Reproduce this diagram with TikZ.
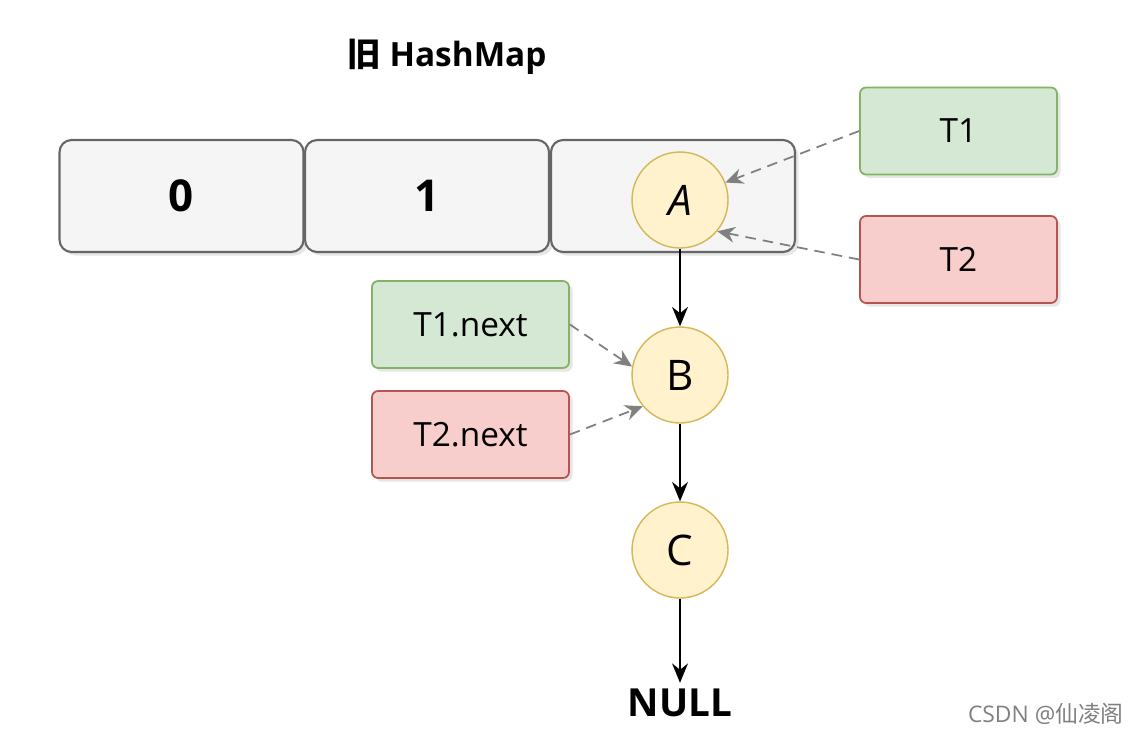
\documentclass[tikz,border=0pt]{standalone}
\usepackage{fontspec}
\setmainfont{Open Sans}
\newfontfamily\cjk{Noto Sans CJK SC}
\usetikzlibrary{arrows.meta,shadows}
\definecolor{cellfill}{HTML}{F5F5F5}
\definecolor{cellline}{HTML}{666666}
\definecolor{nodefill}{HTML}{FFF2CC}
\definecolor{nodeline}{HTML}{D6B656}
\definecolor{greenfill}{HTML}{D5E8D4}
\definecolor{greenline}{HTML}{82B366}
\definecolor{redfill}{HTML}{F8CECC}
\definecolor{redline}{HTML}{B85450}
\tikzset{
    shade/.style={drop shadow={opacity=0.2,shadow xshift=2pt,shadow yshift=-2pt}},
    cell/.style={draw=cellline,fill=cellfill,line width=1.2pt,rounded corners=0.24cm,
        minimum width=4.88cm,minimum height=2.24cm,font=\fontsize{25}{30}\selectfont\bfseries,shade},
    item/.style={circle,draw=nodeline,fill=nodefill,line width=0.8pt,minimum size=1.92cm,
        inner sep=0pt,font=\fontsize{24}{28}\selectfont},
    ptr/.style={draw,line width=1pt,rounded corners=0.12cm,minimum width=3.94cm,
        minimum height=1.74cm,font=\fontsize{19}{23}\selectfont,shade},
    green/.style={ptr,draw=greenline,fill=greenfill},
    red/.style={ptr,draw=redline,fill=redfill},
    link/.style={-{Stealth[length=11pt,width=9pt]},line width=1.3pt},
    refer/.style={-{Stealth[length=10pt,width=9pt]},dashed,dash pattern=on 6pt off 4pt,
        line width=1pt,draw=gray}
}
\begin{document}
\begin{tikzpicture}[x=0.02cm,y=-0.02cm]
    \useasboundingbox (0,0) rectangle (1141,734);
    %title
    \node (title) at (447,57) {\fontsize{19}{23}\selectfont\bfseries{\cjk 旧} HashMap};
    %array
    \node[cell] (c0) at (181.5,196) {0};
    \node[cell] (c1) at (427,196) {1};
    \node[cell] (c2) at (673,196) {};
    %list
    \node[item] (A) at (680,200) {\itshape A};
    \node[item] (B) at (680,375) {B};
    \node[item] (C) at (680,550) {C};
    \node[font=\fontsize{22}{26}\selectfont\bfseries] (null) at (680,703) {NULL};
    \draw[link] (A) -- (B);
    \draw[link] (B) -- (C);
    \draw[link] (C) -- (null);
    %threads
    \node[green] (T1) at (958.5,131) {T1};
    \node[red] (T2) at (958.5,259.5) {T2};
    \node[green] (T1n) at (470.5,324.5) {T1.next};
    \node[red] (T2n) at (470.5,434.5) {T2.next};
    \draw[refer] (T1.west) -- (A);
    \draw[refer] (T2.west) -- (A.-40);
    \draw[refer] (T1n.east) -- (B.170);
    \draw[refer] (T2n.east) -- (B.220);
    % watermark
    \node[anchor=east,text=gray,font=\fontsize{13}{15}\selectfont] (mark) at (1130,714) {CSDN @{\cjk 仙凌阁}};
\end{tikzpicture}
\end{document}
